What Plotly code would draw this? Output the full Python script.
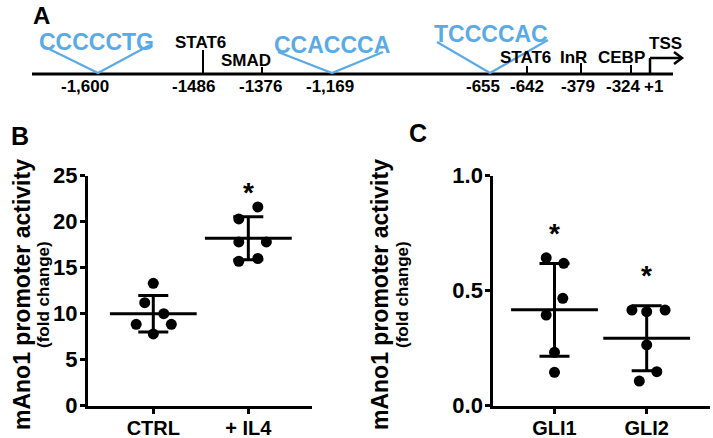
import numpy as np
import plotly.graph_objects as go

# ---------------- data ----------------
# Panel A: promoter schematic
motif_seqs = ["CCCCCTG", "CCACCCA", "TCCCCAC"]
motif_sites = ["-1,600", "-1,169", "-655"]
element_names = ["STAT6", "SMAD", "STAT6", "InR", "CEBP"]
element_sites = ["-1486", "-1376", "-642", "-379", "-324"]
tss_name = "TSS"
tss_site = "+1"

# Panel B
b_categories = ["CTRL", "+ IL4"]
b_ctrl = [13.3, 11.2, 10.0, 8.85, 8.85, 7.8]
b_il4 = [21.6, 20.3, 17.8, 17.8, 15.7, 16.0]
b_ticks = [0, 5, 10, 15, 20, 25]

# Panel C
c_categories = ["GLI1", "GLI2"]
c_gli1 = [0.643, 0.619, 0.467, 0.394, 0.232, 0.145]
c_gli2 = [0.416, 0.409, 0.416, 0.264, 0.148, 0.107]
c_ticks = [0.0, 0.5, 1.0]

# horizontal scatter of the dots (category units)
b_jitter = [[0.0, -0.09, 0.11, -0.18, 0.19, 0.0], [0.1, -0.1, -0.1, 0.19, -0.1, 0.1]]
c_jitter = [[-0.09, 0.1, 0.09, -0.09, 0.0, 0.0], [-0.16, 0.0, 0.2, 0.0, 0.11, -0.08]]

# ---------------- style / layout ----------------
W, H = 713, 438
FONT = "Liberation Sans"
BLUE = "#5aaae6"
BLACK = "#000000"

# schematic layout of panel A (pixel space)
line_y = 74
line_x0, line_x1 = 32, 673
motif_x = [98, 332, 490]
motif_text_x = [96, 332, 491]
motif_text_y = [42, 45, 34]
motif_arm_left = [(41, 45), (278, 52), (437, 42)]
motif_arm_right = [(150, 45), (383, 52), (548, 40)]
element_x = [203, 262, 527, 581, 631]
element_tick_top = [50, 67, 66, 63, 65]
element_text_x = [200, 246, 525, 573, 621]
element_text_y = [42, 60, 57, 57, 57]
site_text_x = [85, 193, 260, 330, 483, 527, 578, 623, 653]
site_text_y = 86
tss_x, tss_top, tss_tip = 650, 58, 682

fig = go.Figure()

# Panel A axis (pixel space, hidden)
fig.update_layout(
    xaxis=dict(domain=[0, 1], range=[0, W], visible=False, fixedrange=True, automargin=False),
    yaxis=dict(domain=[0, 1], range=[H, 0], visible=False, fixedrange=True, automargin=False),
)

shapes = []
annotations = []

def seg(x0, y0, x1, y1, color=BLACK, width=3):
    shapes.append(dict(type="line", xref="x", yref="y", x0=x0, y0=y0, x1=x1, y1=y1,
                       line=dict(color=color, width=width)))

def txt(x, y, s, size, color=BLACK, xref="x", yref="y", angle=0, **kw):
    annotations.append(dict(x=x, y=y, xref=xref, yref=yref, text=s, showarrow=False,
                            xanchor="center", yanchor="middle", textangle=angle,
                            font=dict(family=FONT, size=size, color=color, weight="bold"), **kw))

# main line
seg(line_x0, line_y, line_x1, line_y)
# motifs
for i, m in enumerate(motif_seqs):
    lx, ly = motif_arm_left[i]
    rx, ry = motif_arm_right[i]
    shapes.append(dict(type="path", xref="x", yref="y",
                       path=f"M {lx},{ly} L {motif_x[i]},{line_y - 1} L {rx},{ry}",
                       line=dict(color=BLUE, width=2.2)))
    txt(motif_text_x[i], motif_text_y[i], m, 23, BLUE)
# elements
for i, e in enumerate(element_names):
    seg(element_x[i], element_tick_top[i], element_x[i], line_y, width=2)
    txt(element_text_x[i], element_text_y[i], e, 17)
# TSS arrow
seg(tss_x, line_y, tss_x, tss_top, width=2.5)
seg(tss_x, tss_top, tss_tip, tss_top, width=2.5)
shapes.append(dict(type="path", xref="x", yref="y",
                   path=f"M {tss_tip - 8},{tss_top - 6} L {tss_tip},{tss_top} L {tss_tip - 8},{tss_top + 6}",
                   line=dict(color=BLACK, width=2.5)))
txt(665, 43, tss_name, 17)
# site numbers
all_sites = [motif_sites[0], element_sites[0], element_sites[1], motif_sites[1],
             motif_sites[2], element_sites[2], element_sites[3], element_sites[4], tss_site]
for x, s in zip(site_text_x, all_sites):
    txt(x, site_text_y, s, 17)

# panel letters
txt(41, 15, "A", 24)
txt(20, 136, "B", 25)
txt(418, 133, "C", 25)


def add_panel(groups, jitter, xa, ya):
    for k, vals in enumerate(groups):
        xs = [k + j for j in jitter[k]]
        fig.add_trace(go.Scatter(x=xs, y=vals, mode="markers", xaxis=xa, yaxis=ya,
                                 marker=dict(size=11, color=BLACK), showlegend=False,
                                 hoverinfo="skip", cliponaxis=False))
    for k, vals in enumerate(groups):
        m = float(np.mean(vals))
        sd = float(np.std(vals, ddof=1))
        fig.add_trace(go.Scatter(x=[k], y=[m], mode="markers", xaxis=xa, yaxis=ya,
                                 marker=dict(symbol="line-ew", size=62,
                                             line=dict(width=3, color=BLACK), color=BLACK),
                                 error_y=dict(type="data", array=[sd], visible=True,
                                              thickness=3, width=15, color=BLACK),
                                 showlegend=False, hoverinfo="skip", cliponaxis=False))


add_panel([b_ctrl, b_il4], b_jitter, "x2", "y2")
add_panel([c_gli1, c_gli2], c_jitter, "x3", "y3")

ydom = [1 - 405.7 / H, 1 - 175.7 / H]
axis_common = dict(showline=True, linecolor=BLACK, linewidth=3, ticks="outside",
                   ticklen=5, tickwidth=3, tickcolor=BLACK, showgrid=False, zeroline=False,
                   fixedrange=True, automargin=False)
xfont = dict(family=FONT, size=20, color=BLACK, weight="bold")
yfont = dict(family=FONT, size=22, color=BLACK, weight="bold")

fig.update_layout(
    xaxis2=dict(domain=[88 / W, 311.7 / W], range=[-0.687, 1.667], anchor="y2",
                tickvals=[0, 1], ticktext=b_categories, tickfont=xfont,
                ticklabelstandoff=-3, **axis_common),
    yaxis2=dict(domain=ydom, range=[0, 25], anchor="x2", tickvals=b_ticks,
                tickfont=yfont, ticklabelstandoff=-2, **axis_common),
    xaxis3=dict(domain=[493.3 / W, 710 / W], range=[-0.664, 1.687], anchor="y3",
                tickvals=[0, 1], ticktext=c_categories, tickfont=xfont,
                ticklabelstandoff=-3, **axis_common),
    yaxis3=dict(domain=ydom, range=[0, 1], anchor="x3", tickvals=c_ticks,
                tickformat=".1f", tickfont=yfont, ticklabelstandoff=-2, **axis_common),
)

# axis titles (rotated)
ymid = 1 - 295 / H
for xt, xf in [(22, 43), (380, 402)]:
    txt(xt / W, ymid, "mAno1 promoter activity", 23, xref="paper", yref="paper", angle=-90)
    txt(xf / W, ymid, "(fold change)", 17, xref="paper", yref="paper", angle=-90)

# significance stars (placed above mean + SD)
b_groups = [b_ctrl, b_il4]
for k in [1]:
    v = b_groups[k]
    top = np.mean(v) + np.std(v, ddof=1)
    txt(k, top + 0.105 * 25, "*", 28, xref="x2", yref="y2")
c_groups = [c_gli1, c_gli2]
for k in [0, 1]:
    v = c_groups[k]
    top = np.mean(v) + np.std(v, ddof=1)
    txt(k, top + 0.13 * 1.0, "*", 28, xref="x3", yref="y3")

fig.update_layout(
    width=W, height=H, margin=dict(l=0, r=0, t=0, b=0, autoexpand=False),
    paper_bgcolor="white", plot_bgcolor="rgba(0,0,0,0)",
    shapes=shapes, annotations=annotations,
)

fig.write_html(
    "out.html",
    config={"displayModeBar": False},
    post_script="document.body.style.margin='0';document.body.style.padding='0';"
                "document.documentElement.style.overflow='hidden';",
)
